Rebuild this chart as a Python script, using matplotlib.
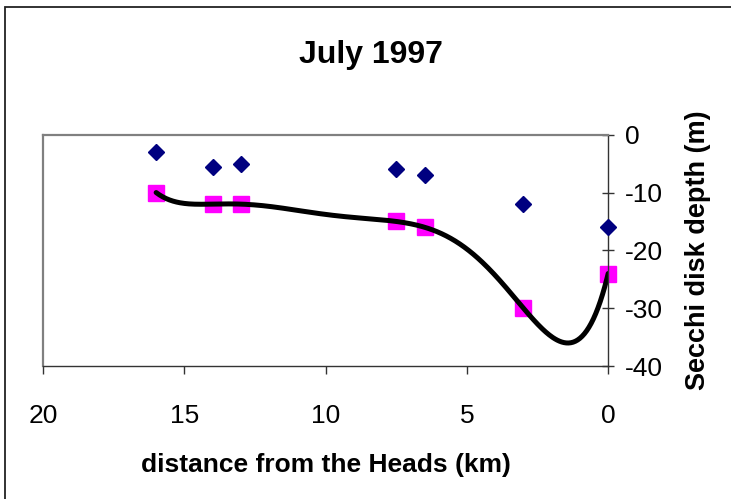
import numpy as np
import matplotlib.pyplot as plt
from matplotlib.patches import Rectangle

plt.rcParams['font.family'] = ['Liberation Sans', 'DejaVu Sans']
plt.rcParams['axes.unicode_minus'] = False

# distance from the Heads (km)
distance = [16, 14, 13, 7.5, 6.5, 3, 0]
# two Secchi depth series (m)
depth_a = [-3, -5.5, -5, -6, -7, -12, -16]
depth_b = [-10, -12, -12, -15, -16, -30, -24]

x_ticks = [20, 15, 10, 5, 0]
y_ticks = [0, -10, -20, -30, -40]

fig = plt.figure(figsize=(7.31, 4.99), dpi=100)
ax = fig.add_axes([0.059, 0.2665, 0.773, 0.4635])

# polynomial trend line through the second series
coef = np.polyfit(distance, depth_b, 6)
xs = np.linspace(max(distance), min(distance), 400)
ax.plot(xs, np.polyval(coef, xs), color='black', lw=3.6, zorder=2,
        solid_capstyle='round')

ax.plot(distance, depth_a, ls='none', marker='D', ms=8, color='#000080',
        zorder=3, clip_on=False)
ax.plot(distance, depth_b, ls='none', marker='s', ms=11, color='#FF00FF',
        zorder=1, clip_on=False)

ax.set_xlim(20, 0)
ax.set_ylim(-40, 0)
ax.set_xticks(x_ticks)
ax.set_yticks(y_ticks)
ax.yaxis.tick_right()
ax.yaxis.set_label_position('right')

for side in ('left', 'top'):
    ax.spines[side].set_color('#808080')
    ax.spines[side].set_linewidth(1.6)
for side in ('right', 'bottom'):
    ax.spines[side].set_color('#333333')
    ax.spines[side].set_linewidth(1.0)

ax.tick_params(axis='x', direction='out', length=6, width=1, pad=21,
               labelsize=19, color='#333333')
ax.tick_params(axis='y', direction='inout', length=8, width=1, pad=8,
               labelsize=19, color='#333333')

ax.set_xlabel('distance from the Heads (km)', fontsize=19, fontweight='bold',
              labelpad=18)
ax.set_ylabel('Secchi disk depth (m)', fontsize=19.5, fontweight='bold',
              labelpad=16)
fig.text(0.508, 0.89, 'July 1997', ha='center', va='center', fontsize=23,
         fontweight='bold')

# frame around the whole chart
fig.patches.append(Rectangle((0.0062, -0.05), 1.2, 1.035, transform=fig.transFigure,
                             fill=False, edgecolor='#222222', lw=1.3))

fig.savefig('out.png', dpi=100)
